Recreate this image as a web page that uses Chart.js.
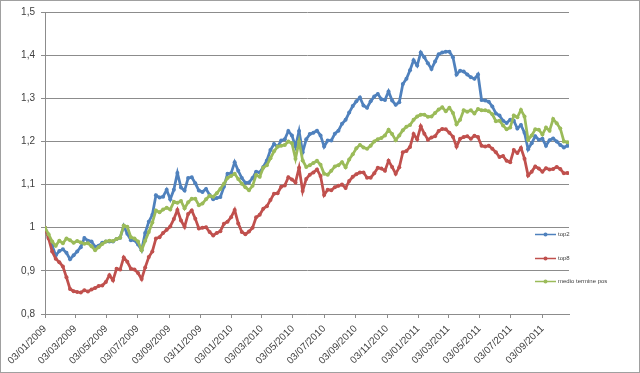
<!DOCTYPE html>
<html>
<head>
<meta charset="utf-8">
<script src="https://cdn.jsdelivr.net/npm/chart.js@4"></script>
<style>
  html, body { margin: 0; padding: 0; background: #fff; }
  canvas { display: block; }
</style>
</head>
<body>
<canvas id="chart" width="640" height="373"></canvas>
<script>
// weekly series, first value on 03/01/2009
const firstDate = [2009, 1, 3]
const tickDates = ['03/01/2009', '03/03/2009', '03/05/2009', '03/07/2009', '03/09/2009', '03/11/2009',
  '03/01/2010', '03/03/2010', '03/05/2010', '03/07/2010', '03/09/2010', '03/11/2010',
  '03/01/2011', '03/03/2011', '03/05/2011', '03/07/2011', '03/09/2011']
const seriesNames = ['top2', 'top8', 'medio termine pos']
const seriesColors = ['#4F81BD', '#C0504D', '#9BBB59']

const top2 = [
  1.000, 0.978, 0.958, 0.936, 0.946, 0.950, 0.942, 0.927, 0.936, 0.945,
  0.955, 0.976, 0.970, 0.968, 0.956, 0.958, 0.965, 0.968, 0.968, 0.968,
  0.974, 0.977, 1.004, 0.986, 0.971, 0.971, 0.961, 0.948, 0.988, 1.014,
  1.030, 1.075, 1.070, 1.072, 1.088, 1.066, 1.088, 1.127, 1.093, 1.086,
  1.115, 1.117, 1.103, 1.086, 1.083, 1.090, 1.076, 1.066, 1.069, 1.071,
  1.095, 1.125, 1.126, 1.152, 1.132, 1.115, 1.104, 1.105, 1.115, 1.130,
  1.128, 1.141, 1.156, 1.180, 1.194, 1.188, 1.202, 1.205, 1.224, 1.214,
  1.188, 1.224, 1.175, 1.205, 1.217, 1.220, 1.225, 1.214, 1.188, 1.202,
  1.202, 1.218, 1.225, 1.241, 1.250, 1.267, 1.282, 1.293, 1.302, 1.283,
  1.278, 1.293, 1.304, 1.310, 1.298, 1.296, 1.316, 1.295, 1.285, 1.291,
  1.333, 1.345, 1.365, 1.388, 1.376, 1.406, 1.395, 1.381, 1.368, 1.385,
  1.402, 1.406, 1.408, 1.408, 1.395, 1.355, 1.364, 1.362, 1.355, 1.349,
  1.345, 1.355, 1.296, 1.295, 1.292, 1.281, 1.265, 1.260, 1.248, 1.243,
  1.250, 1.248, 1.230, 1.238, 1.220, 1.182, 1.196, 1.212, 1.204, 1.206,
  1.190, 1.203, 1.207, 1.200, 1.192, 1.186, 1.190
]
const top8 = [
  1.000, 0.975, 0.945, 0.928, 0.920, 0.910, 0.885, 0.858, 0.853, 0.851,
  0.850, 0.855, 0.852, 0.857, 0.860, 0.865, 0.866, 0.874, 0.890, 0.878,
  0.905, 0.903, 0.931, 0.921, 0.905, 0.903, 0.895, 0.881, 0.908, 0.932,
  0.945, 0.975, 0.978, 0.988, 0.995, 1.003, 1.020, 1.041, 1.017, 1.002,
  1.032, 1.040, 1.021, 0.998, 1.000, 1.001, 0.990, 0.982, 0.988, 0.992,
  1.009, 1.014, 1.024, 1.041, 1.010, 0.990, 0.985, 0.991, 1.000, 1.024,
  1.030, 1.044, 1.050, 1.064, 1.079, 1.080, 1.095, 1.098, 1.117, 1.112,
  1.105, 1.139, 1.085, 1.113, 1.123, 1.128, 1.135, 1.120, 1.076, 1.088,
  1.087, 1.094, 1.097, 1.100, 1.092, 1.108, 1.118, 1.124, 1.128, 1.128,
  1.116, 1.116, 1.126, 1.139, 1.137, 1.132, 1.155, 1.141, 1.125, 1.140,
  1.175, 1.178, 1.187, 1.217, 1.205, 1.235, 1.218, 1.204, 1.209, 1.212,
  1.224, 1.229, 1.228, 1.220, 1.211, 1.188, 1.206, 1.210, 1.212, 1.206,
  1.213, 1.210, 1.190, 1.188, 1.190, 1.183, 1.175, 1.164, 1.166, 1.155,
  1.152, 1.180, 1.173, 1.185, 1.160, 1.121, 1.130, 1.142, 1.137, 1.130,
  1.138, 1.135, 1.136, 1.141, 1.136, 1.126, 1.127
]
const medioTermine = [
  1.000, 0.985, 0.968, 0.958, 0.970, 0.964, 0.975, 0.971, 0.965, 0.969,
  0.966, 0.963, 0.964, 0.957, 0.948, 0.955, 0.962, 0.968, 0.970, 0.969,
  0.974, 0.977, 1.005, 1.002, 0.978, 0.975, 0.968, 0.948, 0.970, 0.990,
  1.012, 1.040, 1.036, 1.042, 1.046, 1.042, 1.060, 1.058, 1.062, 1.045,
  1.059, 1.067, 1.067, 1.052, 1.056, 1.066, 1.074, 1.072, 1.080, 1.090,
  1.102, 1.115, 1.120, 1.125, 1.113, 1.102, 1.094, 1.087, 1.097, 1.122,
  1.118, 1.139, 1.145, 1.161, 1.177, 1.188, 1.190, 1.192, 1.200, 1.196,
  1.160, 1.200, 1.156, 1.141, 1.145, 1.150, 1.155, 1.146, 1.125, 1.123,
  1.132, 1.142, 1.145, 1.152, 1.140, 1.158, 1.170, 1.184, 1.192, 1.186,
  1.183, 1.190, 1.200, 1.205, 1.208, 1.214, 1.227, 1.217, 1.203, 1.214,
  1.226, 1.234, 1.238, 1.250, 1.258, 1.262, 1.262, 1.257, 1.258, 1.266,
  1.274, 1.279, 1.270, 1.278, 1.266, 1.240, 1.250, 1.272, 1.269, 1.272,
  1.265, 1.275, 1.272, 1.272, 1.270, 1.263, 1.247, 1.248, 1.237, 1.228,
  1.232, 1.260, 1.256, 1.273, 1.258, 1.204, 1.214, 1.228, 1.227, 1.216,
  1.232, 1.225, 1.252, 1.242, 1.230, 1.200, 1.198
]

const DAY = 86400000
const t0 = Date.UTC(firstDate[0], firstDate[1] - 1, firstDate[2])
function dayOf(s) {
  const p = s.split('/')
  return (Date.UTC(+p[2], +p[1] - 1, +p[0]) - t0) / DAY
}
const tickDays = tickDates.map(dayOf)
const weekly = vals => vals.map((v, i) => ({x: i * 7, y: v}))

const font = {family: "'Liberation Sans', Arial, sans-serif", size: 10}
const gridGray = '#8c8c8c'

const background = {
  id: 'background',
  beforeDraw(chart) {
    const ctx = chart.ctx
    ctx.save()
    ctx.fillStyle = '#fff'
    ctx.fillRect(0, 0, chart.width, chart.height)
    ctx.strokeStyle = '#a0a0a0'
    ctx.lineWidth = 1
    ctx.strokeRect(0.5, 0.5, chart.width - 1, chart.height - 1)
    ctx.restore()
  }
}

// excel style legend: line with marker, sitting at the right, over the lower part
const sideLegend = {
  id: 'sideLegend',
  afterDraw(chart) {
    const ctx = chart.ctx
    const area = chart.chartArea
    ctx.save()
    ctx.font = "6px 'Liberation Sans', Arial, sans-serif"
    ctx.textBaseline = 'middle'
    chart.data.datasets.forEach((ds, i) => {
      const y = Math.round(area.top + 222 + i * 23.5) + 0.5
      const x0 = area.right - 34
      ctx.strokeStyle = ds.borderColor
      ctx.lineWidth = 1.5
      ctx.beginPath()
      ctx.moveTo(x0, y)
      ctx.lineTo(x0 + 21, y)
      ctx.stroke()
      ctx.fillStyle = ds.borderColor
      ctx.beginPath()
      ctx.arc(x0 + 10.5, y, 2, 0, Math.PI * 2)
      ctx.fill()
      ctx.fillStyle = '#404040'
      ctx.fillText(ds.label, x0 + 23, y)
    })
    ctx.restore()
  }
}

const makeSet = (i, vals, order) => ({
  label: seriesNames[i],
  data: weekly(vals),
  borderColor: seriesColors[i],
  backgroundColor: seriesColors[i],
  borderWidth: 2.75,
  pointRadius: 2,
  pointBorderWidth: 0,
  tension: 0,
  order: order
})

new Chart(document.getElementById('chart'), {
  type: 'line',
  data: {
    datasets: [
      makeSet(0, top2, 3),
      makeSet(1, top8, 2),
      makeSet(2, medioTermine, 1)
    ]
  },
  options: {
    responsive: false,
    animation: false,
    layout: {padding: {left: 0, top: 11, right: 71, bottom: 0}},
    plugins: {legend: {display: false}, tooltip: {enabled: false}},
    scales: {
      x: {
        type: 'linear',
        min: 0,
        max: 1025,
        afterBuildTicks: scale => { scale.ticks = tickDays.map(v => ({value: v})) },
        afterFit: scale => { scale.height = 59 },
        ticks: {
          autoSkip: false,
          minRotation: 45,
          maxRotation: 45,
          padding: 5,
          color: '#404040',
          font: font,
          callback: (v, i) => tickDates[i]
        },
        grid: {drawOnChartArea: false, drawTicks: true, tickLength: 4, color: gridGray},
        border: {color: gridGray}
      },
      y: {
        min: 0.8,
        max: 1.5,
        afterFit: scale => { scale.width = 45 },
        ticks: {
          stepSize: 0.1,
          padding: 6,
          color: '#404040',
          font: font,
          callback: v => String(+v.toFixed(1)).replace('.', ',')
        },
        grid: {color: gridGray, tickLength: 4},
        border: {color: gridGray}
      }
    }
  },
  plugins: [background, sideLegend]
})
</script>
</body>
</html>
